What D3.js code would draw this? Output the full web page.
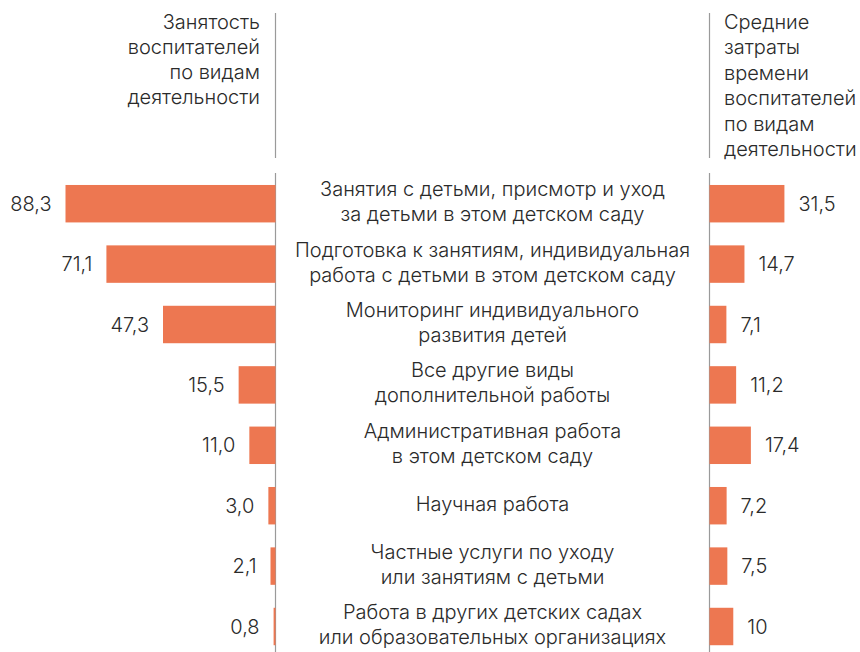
<!DOCTYPE html>
<html>
<head>
<meta charset="utf-8">
<script src="https://cdn.jsdelivr.net/npm/d3@7/dist/d3.min.js"></script>
<style>
  html, body { margin: 0; padding: 0; background: #fff; }
  svg { display: block; }
  text { font-family: Inter, Roboto, "Liberation Sans", sans-serif; font-weight: 300; fill: #2a2a2a; }
</style>
</head>
<body>
<svg id="chart" width="860" height="652"></svg>
<script>
// Activities (two-line labels separated by "\n")
const categories = [
  "Занятия с детьми, присмотр и уход\nза детьми в этом детском саду",
  "Подготовка к занятиям, индивидуальная\nработа с детьми в этом детском саду",
  "Мониторинг индивидуального\nразвития детей",
  "Все другие виды\nдополнительной работы",
  "Административная работа\nв этом детском саду",
  "Научная работа",
  "Частные услуги по уходу\nили занятиям с детьми",
  "Работа в других детских садах\nили образовательных организациях"
];
// Share of teachers engaged in each activity, %
const employment = [88.3, 71.1, 47.3, 15.5, 11.0, 3.0, 2.1, 0.8];
// Average time spent on each activity
const timeSpent = [31.5, 14.7, 7.1, 11.2, 17.4, 7.2, 7.5, 10];
const timeLabels = ["31,5", "14,7", "7,1", "11,2", "17,4", "7,2", "7,5", "10"];

const leftTitle = ["Занятость", "воспитателей", "по видам", "деятельности"];
const rightTitle = ["Средние", "затраты", "времени", "воспитателей", "по видам", "деятельности"];

const svg = d3.select("#chart");
const leftAxisX = 275.5, rightAxisX = 709.5;
const barColor = "#ED7751";
const axisColor = "#9a9a9a";
const fontSize = 20;

const y = d3.scaleBand()
  .domain(d3.range(categories.length))
  .range([173.5, 656.7])
  .paddingInner(0.38)
  .paddingOuter(0.19);

const x = d3.scaleLinear().domain([0, 88.3]).range([0, 210]);

const fmt = v => d3.format(".1f")(v).replace(".", ",");

// Vertical separators
[leftAxisX, rightAxisX].forEach(ax => {
  svg.append("line").attr("x1", ax).attr("x2", ax).attr("y1", 13).attr("y2", 158)
    .attr("stroke", axisColor).attr("stroke-width", 1.2);
  svg.append("line").attr("x1", ax).attr("x2", ax).attr("y1", 173).attr("y2", 652)
    .attr("stroke", axisColor).attr("stroke-width", 1.2);
});

// Column titles
svg.append("text").attr("text-anchor", "end").attr("font-size", fontSize)
  .selectAll("tspan").data(leftTitle).join("tspan")
  .attr("x", 260).attr("y", (d, i) => 29 + i * 25).text(d => d);

svg.append("text").attr("text-anchor", "start").attr("font-size", fontSize)
  .selectAll("tspan").data(rightTitle).join("tspan")
  .attr("x", 724).attr("y", (d, i) => 29 + i * 25.4).text(d => d);

// Left bars (growing leftwards)
svg.append("g").selectAll("rect").data(employment).join("rect")
  .attr("x", d => leftAxisX - x(d))
  .attr("y", (d, i) => y(i))
  .attr("width", d => x(d))
  .attr("height", y.bandwidth())
  .attr("fill", barColor);

svg.append("g").selectAll("text").data(employment).join("text")
  .attr("x", d => leftAxisX - x(d) - 14)
  .attr("y", (d, i) => y(i) + y.bandwidth() / 2)
  .attr("dy", "0.35em")
  .attr("text-anchor", "end")
  .attr("font-size", fontSize)
  .text(d => fmt(d));

// Right bars
svg.append("g").selectAll("rect").data(timeSpent).join("rect")
  .attr("x", rightAxisX)
  .attr("y", (d, i) => y(i))
  .attr("width", d => x(d))
  .attr("height", y.bandwidth())
  .attr("fill", barColor);

svg.append("g").selectAll("text").data(timeSpent).join("text")
  .attr("x", d => rightAxisX + x(d) + 14)
  .attr("y", (d, i) => y(i) + y.bandwidth() / 2)
  .attr("dy", "0.35em")
  .attr("text-anchor", "start")
  .attr("font-size", fontSize)
  .text((d, i) => timeLabels[i]);

// Category labels in the middle column
const midX = (leftAxisX + rightAxisX) / 2;
const lineH = 25;
svg.append("g").selectAll("text").data(categories).join("text")
  .attr("text-anchor", "middle")
  .attr("font-size", fontSize)
  .each(function(d, i) {
    const lines = d.split("\n");
    const cy = y(i) + y.bandwidth() / 2 - 2;
    d3.select(this).selectAll("tspan").data(lines).join("tspan")
      .attr("x", midX)
      .attr("y", (l, j) => cy + (j - (lines.length - 1) / 2) * lineH)
      .attr("dy", "0.35em")
      .text(l => l);
  });
</script>
</body>
</html>
